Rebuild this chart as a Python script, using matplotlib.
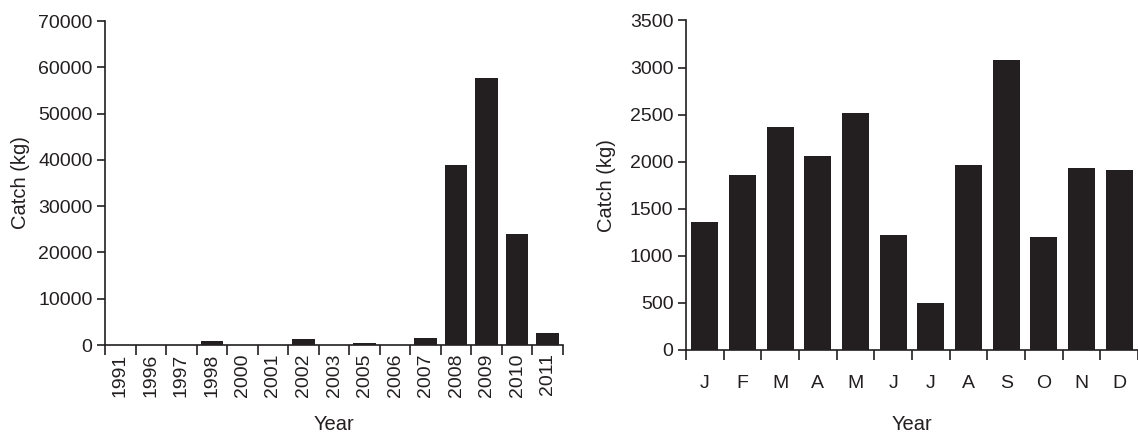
import matplotlib
matplotlib.use("Agg")
import matplotlib.pyplot as plt
import numpy as np

# annual catch
years = ["1991", "1996", "1997", "1998", "2000", "2001", "2002", "2003",
         "2005", "2006", "2007", "2008", "2009", "2010", "2011"]
year_catch = [0, 0, 0, 800, 0, 0, 1200, 0, 450, 0, 1550, 38800, 57700, 24000, 2700]

# monthly catch
months = ["J", "F", "M", "A", "M", "J", "J", "A", "S", "O", "N", "D"]
month_catch = [1360, 1855, 2370, 2065, 2520, 1225, 500, 1970, 3080, 1205, 1930, 1910]

plt.rcParams['font.family'] = ['Liberation Sans', 'DejaVu Sans']
ink = '#231f20'
plt.rcParams['text.color'] = ink
plt.rcParams['axes.labelcolor'] = ink
plt.rcParams['xtick.color'] = ink
plt.rcParams['ytick.color'] = ink

fig = plt.figure(figsize=(11.38, 4.33), dpi=100)
ax1 = fig.add_axes([0.0923, 0.2032, 0.4024, 0.7483])
ax2 = fig.add_axes([0.6028, 0.1917, 0.3972, 0.7610])


def style(ax, n):
    for s in ['top', 'right']:
        ax.spines[s].set_visible(False)
    for s in ['left', 'bottom']:
        ax.spines[s].set_linewidth(1.2)
        ax.spines[s].set_color(ink)
    ax.set_xlim(-0.5, n - 0.5)
    # major ticks on category boundaries, labels on minor ticks at centres
    ax.set_xticks(np.arange(n + 1) - 0.5)
    ax.set_xticklabels([])
    ax.tick_params(axis='x', which='major', direction='out', length=7, width=1.2)
    ax.tick_params(axis='y', direction='out', length=6, width=1.2, labelsize=14, pad=3)
    ax.set_ylabel("Catch (kg)", fontsize=14.5)


x1 = np.arange(len(years))
ax1.bar(x1, year_catch, width=0.74, color=ink, edgecolor='none')
style(ax1, len(years))
ax1.set_ylim(0, 70000)
ax1.set_yticks(np.arange(0, 70001, 10000))
ax1.set_xticks(x1, minor=True)
ax1.set_xticklabels(years, minor=True, rotation=90)
ax1.tick_params(axis='x', which='minor', length=0, labelsize=14, pad=6)
ax1.set_xlabel("Year", fontsize=14.5)
ax1.xaxis.set_label_coords(0.5, -0.215)
ax1.yaxis.set_label_coords(-0.163, 0.5)

x2 = np.arange(len(months))
ax2.bar(x2, month_catch, width=0.72, color=ink, edgecolor='none')
style(ax2, len(months))
ax2.set_ylim(0, 3500)
ax2.set_yticks(np.arange(0, 3501, 500))
ax2.set_xticks(x2, minor=True)
ax2.set_xticklabels(months, minor=True)
ax2.tick_params(axis='x', which='minor', length=0, labelsize=14, pad=18)
ax2.set_xlabel("Year", fontsize=14.5)
ax2.xaxis.set_label_coords(0.5, -0.196)
ax2.yaxis.set_label_coords(-0.154, 0.5)

fig.savefig("out.png", dpi=100)
